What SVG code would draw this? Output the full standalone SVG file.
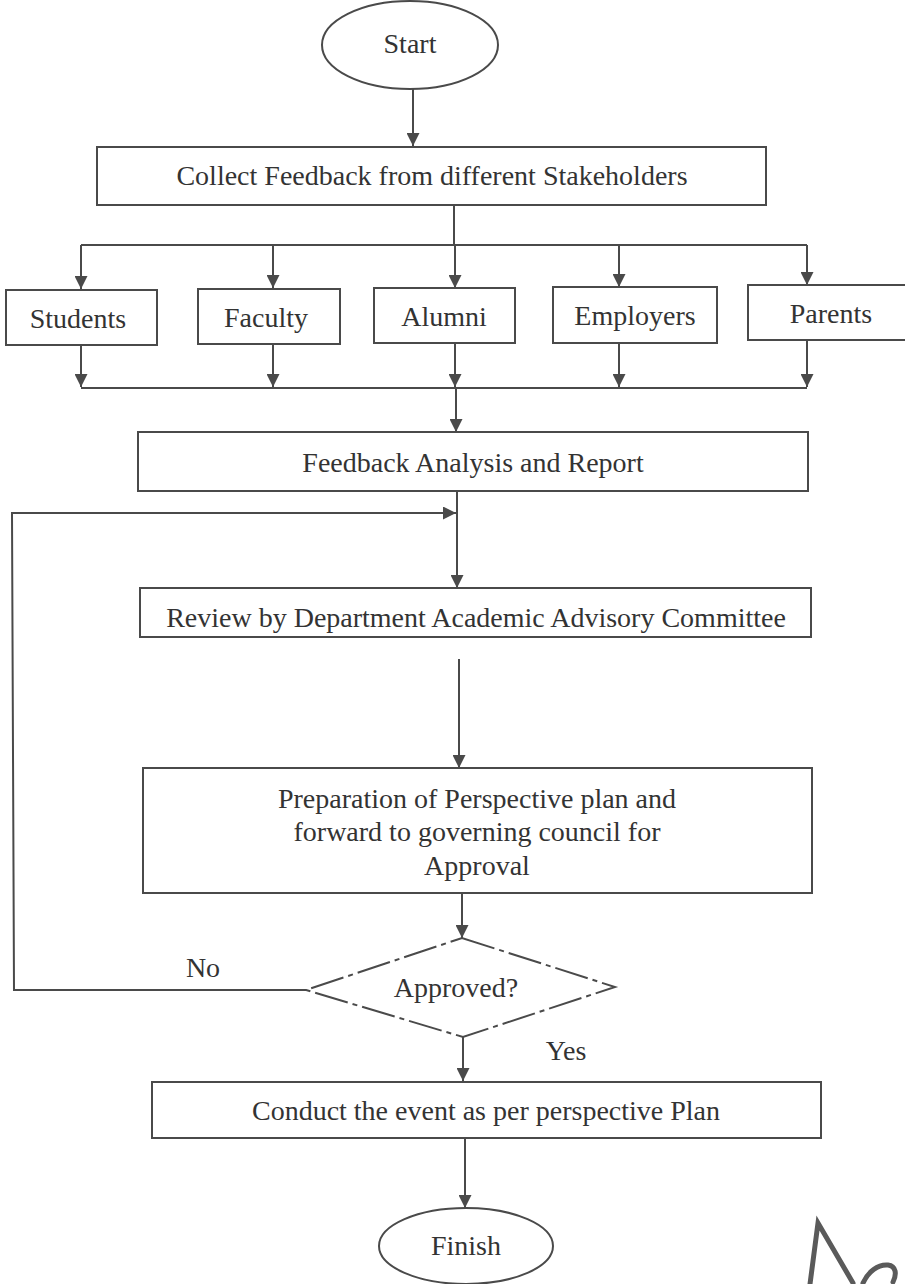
<svg xmlns="http://www.w3.org/2000/svg" width="905" height="1284" viewBox="0 0 905 1284">
<style>
.box{fill:#fff;stroke:#4a4a4a;stroke-width:2}
.ln{fill:none;stroke:#4a4a4a;stroke-width:2}
.t{font-family:"Liberation Serif","Times New Roman",serif;font-size:28px;fill:#333;text-anchor:middle;dominant-baseline:central}
</style>
<defs>
<marker id="ah" viewBox="0 0 13 13" refX="13" refY="6.5" markerWidth="13" markerHeight="13" markerUnits="userSpaceOnUse" orient="auto">
<path d="M0,0 L13,6.5 L0,13 Z" fill="#4a4a4a"/>
</marker>
</defs>
<rect width="905" height="1284" fill="#fff"/>
<g id="connectors">
<line class="ln" x1="413" y1="89" x2="413" y2="146" marker-end="url(#ah)"/>
<line class="ln" x1="454" y1="205" x2="454" y2="245"/>
<line class="ln" x1="81" y1="245" x2="807" y2="245"/>
<line class="ln" x1="81" y1="245" x2="81" y2="289" marker-end="url(#ah)"/>
<line class="ln" x1="273" y1="245" x2="273" y2="288" marker-end="url(#ah)"/>
<line class="ln" x1="455" y1="245" x2="455" y2="288" marker-end="url(#ah)"/>
<line class="ln" x1="619" y1="245" x2="619" y2="287" marker-end="url(#ah)"/>
<line class="ln" x1="807" y1="245" x2="807" y2="285" marker-end="url(#ah)"/>
<line class="ln" x1="81" y1="345" x2="81" y2="387" marker-end="url(#ah)"/>
<line class="ln" x1="273" y1="344" x2="273" y2="387" marker-end="url(#ah)"/>
<line class="ln" x1="455" y1="343" x2="455" y2="387" marker-end="url(#ah)"/>
<line class="ln" x1="619" y1="343" x2="619" y2="387" marker-end="url(#ah)"/>
<line class="ln" x1="807" y1="340" x2="807" y2="387" marker-end="url(#ah)"/>
<line class="ln" x1="81" y1="388" x2="807" y2="388"/>
<line class="ln" x1="456" y1="388" x2="456" y2="432" marker-end="url(#ah)"/>
<line class="ln" x1="457" y1="491" x2="457" y2="588" marker-end="url(#ah)"/>
<polyline class="ln" points="306,990 14,990 12,513 456,513" marker-end="url(#ah)"/>
<line class="ln" x1="459" y1="659" x2="459" y2="768" marker-end="url(#ah)"/>
<line class="ln" x1="462" y1="893" x2="462" y2="938" marker-end="url(#ah)"/>
<line class="ln" x1="463" y1="1037" x2="463" y2="1081" marker-end="url(#ah)"/>
<line class="ln" x1="465" y1="1138" x2="465" y2="1208" marker-end="url(#ah)"/>
</g>
<g id="start">
<ellipse class="box" cx="410" cy="45" rx="88" ry="44"/>
<text class="t" x="410" y="43">Start</text>
</g>
<g id="collect">
<rect class="box" x="97" y="147" width="669" height="58"/>
<text class="t" x="432" y="175">Collect Feedback from different Stakeholders</text>
</g>
<g id="students">
<rect class="box" x="6" y="290" width="151" height="55"/>
<text class="t" x="78" y="318">Students</text>
</g>
<g id="faculty">
<rect class="box" x="198" y="289" width="142" height="55"/>
<text class="t" x="266" y="317">Faculty</text>
</g>
<g id="alumni">
<rect class="box" x="374" y="288" width="141" height="55"/>
<text class="t" x="444" y="316">Alumni</text>
</g>
<g id="employers">
<rect class="box" x="553" y="287" width="164" height="56"/>
<text class="t" x="635" y="315">Employers</text>
</g>
<g id="parents">
<rect class="box" x="748" y="285" width="160" height="55"/>
<text class="t" x="831" y="313">Parents</text>
</g>
<g id="analysis">
<rect class="box" x="138" y="432" width="670" height="59"/>
<text class="t" x="473" y="462">Feedback Analysis and Report</text>
</g>
<g id="review">
<rect class="box" x="140" y="588" width="671" height="49"/>
<text class="t" x="476" y="617">Review by Department Academic Advisory Committee</text>
</g>
<g id="preparation">
<rect class="box" x="143" y="768" width="669" height="125"/>
<text class="t" x="477" y="798">Preparation of Perspective plan and</text>
<text class="t" x="477" y="831">forward to governing council for</text>
<text class="t" x="477" y="865">Approval</text>
</g>
<g id="approved">
<polygon class="box" points="462,938 615,987 463,1037 306,990" stroke-dasharray="34,5,5,5"/>
<text class="t" x="456" y="987">Approved?</text>
</g>
<text class="t" x="203" y="967">No</text>
<text class="t" x="566" y="1050">Yes</text>
<g id="conduct">
<rect class="box" x="152" y="1082" width="669" height="56"/>
<text class="t" x="486" y="1110">Conduct the event as per perspective Plan</text>
</g>
<g id="finish">
<ellipse class="box" cx="466" cy="1246" rx="87" ry="38"/>
<text class="t" x="466" y="1245">Finish</text>
</g>
<path d="M810,1284 L818,1223 L853,1283 M863,1283 C868,1272 878,1264 888,1265 C896,1266 897,1274 893,1282" fill="none" stroke="#5a5a5a" stroke-width="5" stroke-linecap="round"/>
</svg>
